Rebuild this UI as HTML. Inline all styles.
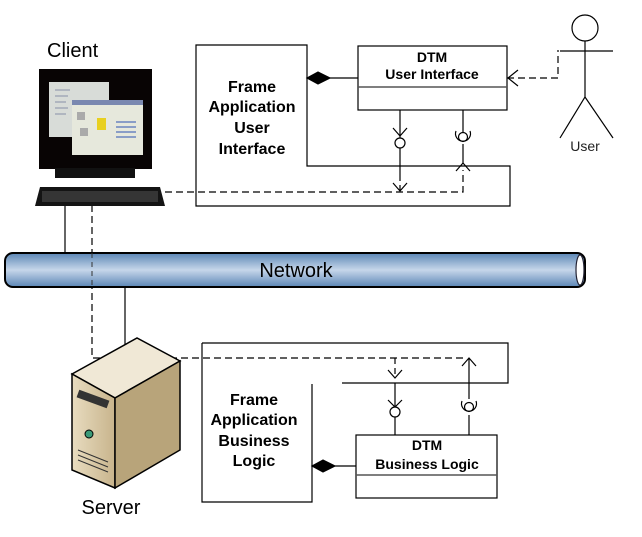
<!DOCTYPE html>
<html><head><meta charset="utf-8"><style>body{margin:0;background:#fff}svg{display:block}text{font-family:"Liberation Sans",Arial,sans-serif}</style></head>
<body>
<svg width="642" height="537" viewBox="0 0 642 537" xmlns="http://www.w3.org/2000/svg">
<defs>
<linearGradient id="tube" x1="0" y1="0" x2="0" y2="1"><stop offset="0" stop-color="#5b86b5"/><stop offset="0.5" stop-color="#c6d6ea"/><stop offset="1" stop-color="#5b86b5"/></linearGradient>
<linearGradient id="srvF" x1="0" y1="0" x2="1" y2="0"><stop offset="0" stop-color="#e8dcc0"/><stop offset="1" stop-color="#c8b48c"/></linearGradient>
</defs>
<g stroke="#000" fill="none" stroke-width="1.2">
<polygon points="196,45 307,45 307,166 510,166 510,206 196,206" fill="#fff"/>
<rect x="358" y="46" width="149" height="64" fill="#fff"/>
<line x1="358" y1="87" x2="507" y2="87" stroke="#555" stroke-width="1.5"/>
<line x1="330" y1="78" x2="358" y2="78"/>
<polygon points="307,78 318,72 330,78 318,84" fill="#000"/>
<path d="M507,78 H558 V50" stroke-dasharray="7,4"/>
<path d="M518,70 L508,78 L518,86"/>
<circle cx="585" cy="28" r="13"/>
<line x1="585" y1="41" x2="585" y2="97"/>
<line x1="560" y1="51" x2="613" y2="51"/>
<path d="M560,138 L585,97 L613,138"/>
<path d="M400,110 V140"/><path d="M393,128 L400,136 L407,128"/>
<circle cx="400" cy="143" r="5" fill="#fff"/>
<path d="M400,148 V175"/>
<path d="M400,175 V191" stroke-dasharray="6,4"/>
<path d="M393,183 L400,191 L407,183"/>
<path d="M165,192 H463 V170" stroke-dasharray="7,4"/>
<path d="M456,171 L463,163 L470,171"/>
<path d="M463,163 V144"/>
<path d="M463,110 V132"/><circle cx="463" cy="137" r="4.5" fill="#fff"/>
<path d="M456,131 A7.5,7.5 0 1 0 470,131"/>
<line x1="65" y1="205" x2="65" y2="253"/>
<path d="M92,205 V358 H465" stroke-dasharray="7,4"/>
<line x1="125" y1="287" x2="125" y2="345"/>
<path d="M202,343 H508 V383 H342"/>
<path d="M202,343 V502 H312 V384"/>
<rect x="356" y="435" width="141" height="63" fill="#fff"/>
<line x1="356" y1="475" x2="497" y2="475" stroke="#555" stroke-width="1.5"/>
<line x1="335" y1="466" x2="356" y2="466"/>
<polygon points="312,466 323,460 335,466 323,472" fill="#000"/>
<path d="M395,358 V378" stroke-dasharray="6,4"/>
<path d="M388,370 L395,378 L402,370"/>
<path d="M395,383 V407"/><path d="M388,400 L395,407 L402,400"/>
<circle cx="395" cy="412" r="5" fill="#fff"/>
<path d="M395,417 V435"/>
<path d="M462,366 L469,358 L476,366"/>
<path d="M469,358 V399"/><circle cx="469" cy="407" r="4.5" fill="#fff"/>
<path d="M462,401 A7.5,7.5 0 1 0 476,401"/>
<path d="M469,415 V435"/>
</g>
<rect x="5" y="253" width="580" height="34" rx="8" fill="url(#tube)" stroke="#000" stroke-width="2"/>
<ellipse cx="580" cy="270" rx="4" ry="15" fill="#fff" stroke="#223" stroke-width="1.2"/>
<line x1="92" y1="253" x2="92" y2="287" stroke="#333" stroke-dasharray="5,4"/>
<text x="296" y="277" font-size="20" text-anchor="middle">Network</text>
<text x="47" y="57" font-size="20">Client</text>
<rect x="39" y="69" width="113" height="100" fill="#080404"/>
<rect x="49" y="82" width="60" height="55" fill="#d8dcd8"/>
<g stroke="#8890a8" stroke-width="1"><line x1="55" y1="90" x2="70" y2="90"/><line x1="55" y1="96" x2="68" y2="96"/><line x1="55" y1="102" x2="66" y2="102"/><line x1="55" y1="108" x2="68" y2="108"/><line x1="55" y1="114" x2="66" y2="114"/></g>
<rect x="72" y="100" width="71" height="55" fill="#e6e8dc"/>
<rect x="72" y="100" width="71" height="5" fill="#7a88b0"/>
<rect x="97" y="118" width="9" height="12" fill="#e8d020"/>
<g stroke="#6a84c0" stroke-width="1.5"><line x1="116" y1="122" x2="136" y2="122"/><line x1="116" y1="127" x2="136" y2="127"/><line x1="116" y1="132" x2="136" y2="132"/><line x1="116" y1="137" x2="136" y2="137"/></g>
<rect x="77" y="112" width="8" height="8" fill="#aaa"/><rect x="80" y="128" width="8" height="8" fill="#aaa"/>
<rect x="55" y="168" width="80" height="10" fill="#111"/>
<polygon points="40,187 160,187 165,206 35,206" fill="#141414"/>
<rect x="42" y="191" width="116" height="11" fill="#555" opacity="0.5"/>
<polygon points="72,374 137,338 180,361 115,398" fill="#f0e8d6" stroke="#000" stroke-width="1.5"/>
<polygon points="72,374 115,398 115,488 72,470" fill="url(#srvF)" stroke="#000" stroke-width="1.5"/>
<polygon points="115,398 180,361 180,450 115,488" fill="#b8a47a" stroke="#000" stroke-width="1.5"/>
<rect x="77" y="395" width="32" height="8" fill="#333" transform="rotate(20 93 399)"/>
<circle cx="89" cy="434" r="4" fill="#3a9a78" stroke="#000"/>
<g stroke="#333"><line x1="78" y1="450" x2="108" y2="462"/><line x1="78" y1="455" x2="108" y2="467"/><line x1="78" y1="460" x2="108" y2="472"/></g>
<text x="111" y="514" font-size="20" text-anchor="middle">Server</text>
<g font-weight="bold" font-size="16" text-anchor="middle">
<text x="252" y="92">Frame</text><text x="252" y="112">Application</text><text x="252" y="133">User</text><text x="252" y="154">Interface</text>
<text x="432" y="62" font-size="14">DTM</text><text x="432" y="79" font-size="14">User Interface</text>
<text x="254" y="405">Frame</text><text x="254" y="425">Application</text><text x="254" y="446">Business</text><text x="254" y="466">Logic</text>
<text x="427" y="450" font-size="14">DTM</text><text x="427" y="469" font-size="14">Business Logic</text>
</g>
<text x="585" y="151" font-size="14" text-anchor="middle" fill="#222">User</text>
</svg>
</body></html>
